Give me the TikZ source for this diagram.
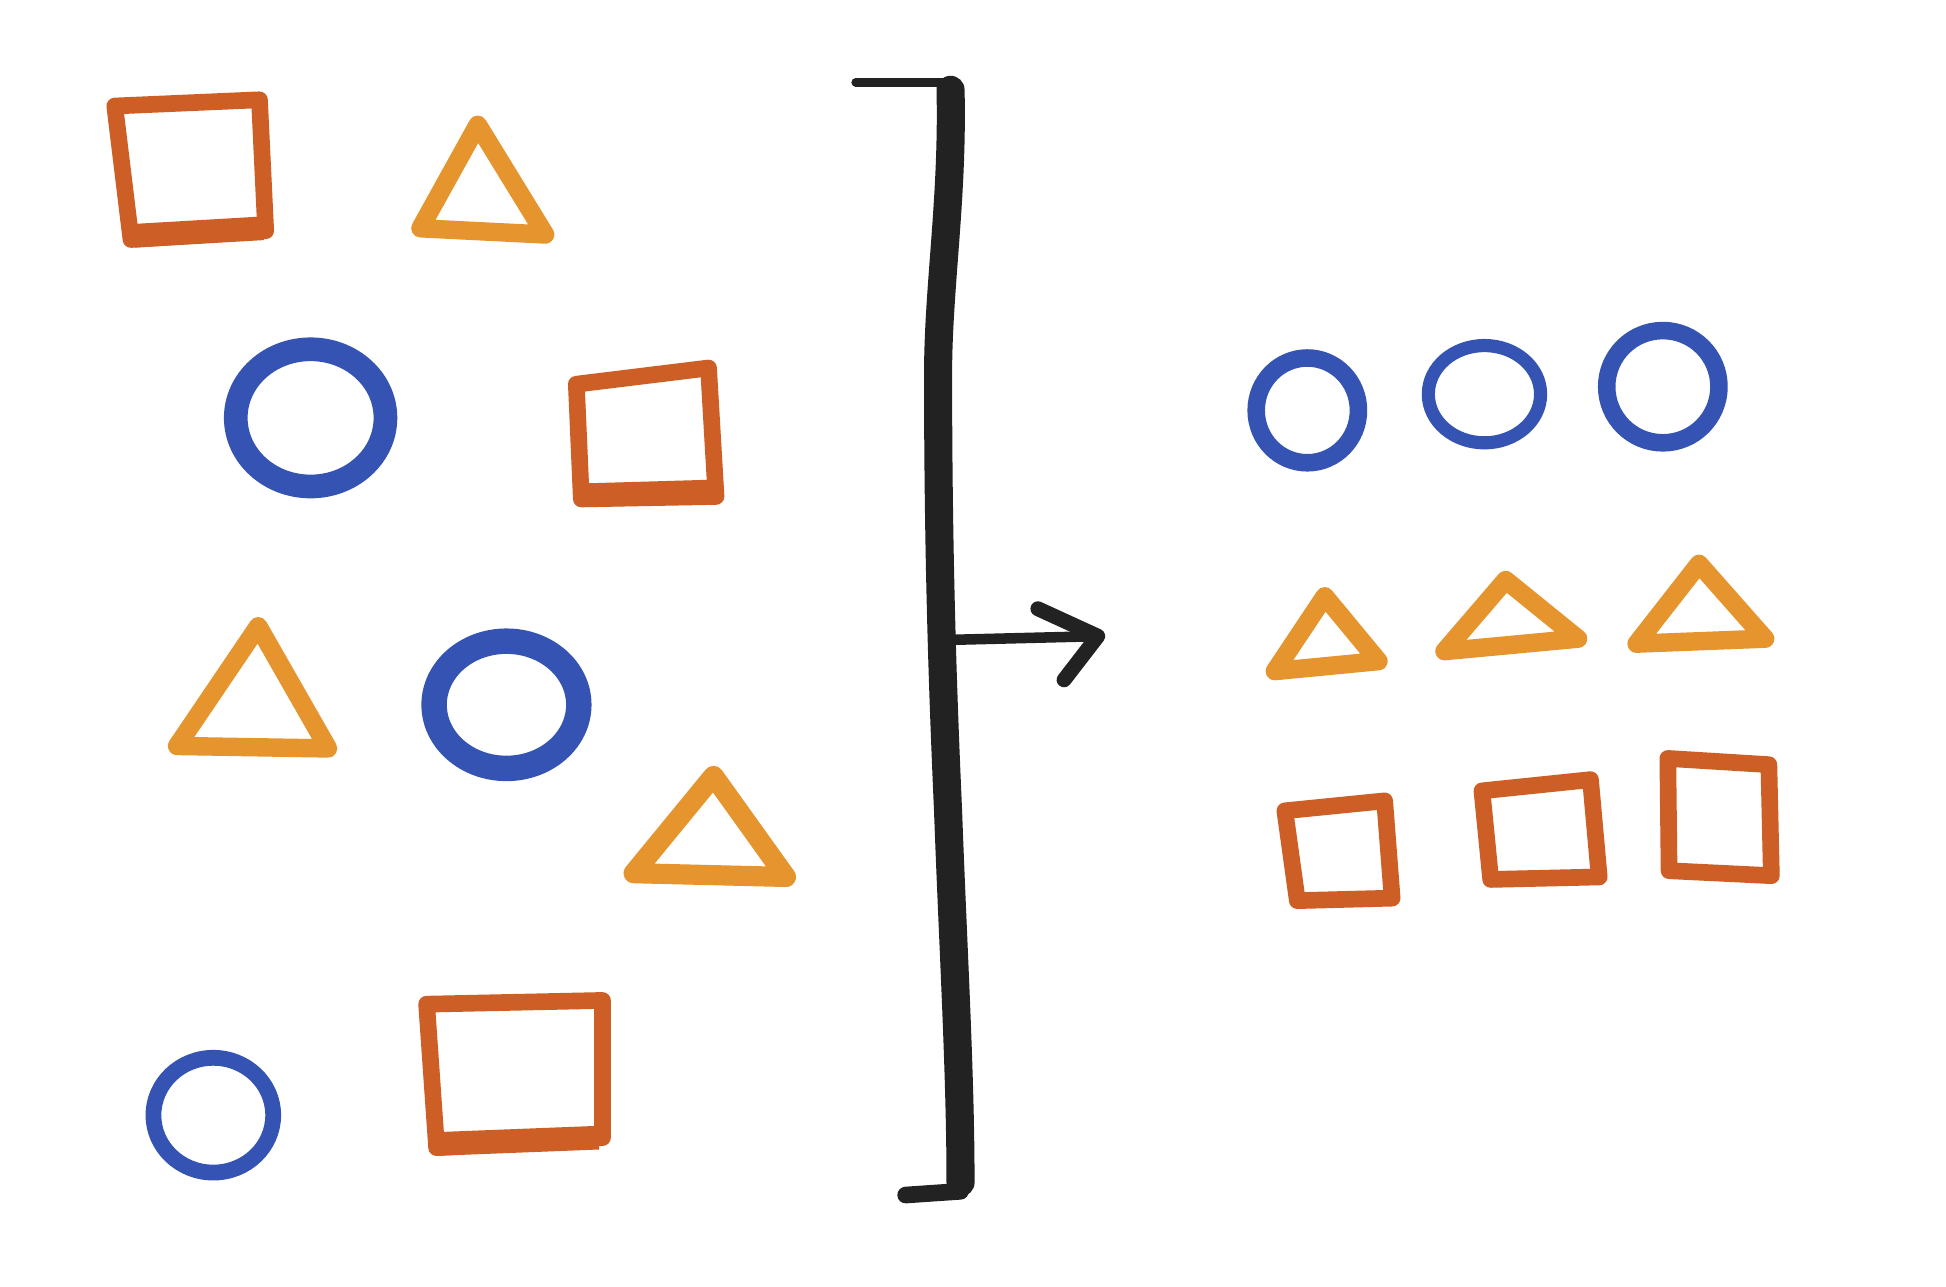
\documentclass[tikz,border=0pt]{standalone}
\begin{document}
\begin{tikzpicture}[x=0.01cm,y=-0.01cm,line join=round,line cap=round,
  sq/.style={draw=sqcol,line width=3.8pt},
  sqbase/.style={draw=sqcol,line width=5.4pt,line cap=butt},
  tri/.style={draw=tricol,line width=4.2pt},
  ring/.style={draw=ringcol},
  ink/.style={draw=inkcol}]
\definecolor{sqcol}{HTML}{CD5F26}
\definecolor{tricol}{HTML}{E6942E}
\definecolor{ringcol}{HTML}{3553B2}
\definecolor{inkcol}{HTML}{222222}
\useasboundingbox[fill=white] (0,0) rectangle (1560,1031);

% ---- left: mixed shapes ----
% squares
\draw[sq] (92,85) -- (208,80) -- (213,185) -- (105,192) -- cycle;
\draw[sqbase] (108,189) -- (211,183);
\draw[sq] (462,308) -- (568,295) -- (574,398) -- (466,400) -- cycle;
\draw[sqbase] (469,397) -- (572,394);
\draw[sq] (342,805) -- (483,802) -- (483,912) -- (350,920) -- cycle;
\draw[sqbase] (352,917) -- (480,912);
% triangles
\draw[tri] (383,100) -- (437,188) -- (337,183) -- cycle;
\draw[tri] (207,502) -- (263,600) -- (142,598) -- cycle;
\draw[tri,line width=4.6pt] (572,622) -- (630,703) -- (508,700) -- cycle;
% circles
\draw[ring,line width=5.4pt] (249,335) ellipse [x radius=60,y radius=55];
\draw[ring,line width=5.8pt] (406,565) ellipse [x radius=58,y radius=51];
\draw[ring,line width=3.6pt] (171,894) ellipse [x radius=48,y radius=46];

% ---- bracket and arrow ----
\coordinate (btl) at (686,66);
\coordinate (btr) at (762,66);
\coordinate (btv) at (762,72);
\coordinate (bbr) at (770,948);
\coordinate (bbl) at (726,958);
\coordinate (bbc) at (770,955);
\coordinate (amid) at (760,513);
\coordinate (atip) at (880,510);
\draw[ink,line width=2pt] (btl) -- (btr);
\draw[ink,line width=6.4pt] (btv) .. controls (764,160) and (752,230) .. (752,300)
  .. controls (752,450) and (756,560) .. (760,650)
  .. controls (764,760) and (770,860) .. (bbr);
\draw[ink,line width=3.8pt] (bbc) -- (bbl);
\draw[ink,line width=2.4pt] (amid) -- (atip);
\draw[ink,line width=3.4pt] (832,488) -- (atip) -- (853,545);

% ---- right: sorted shapes ----
\draw[ring,line width=4pt] (1048,329) ellipse [x radius=41,y radius=42];
\draw[ring,line width=3pt] (1190,316) ellipse [x radius=45,y radius=39];
\draw[ring,line width=4pt] (1333,310) ellipse [x radius=45,y radius=45];

\draw[tri] (1062,478) -- (1105,530) -- (1022,538) -- cycle;
\draw[tri] (1207,465) -- (1265,512) -- (1158,522) -- cycle;
\draw[tri] (1362,452) -- (1415,512) -- (1312,516) -- cycle;

\draw[sq] (1030,650) -- (1110,642) -- (1116,720) -- (1040,722) -- cycle;
\draw[sq] (1188,634) -- (1275,625) -- (1282,703) -- (1195,705) -- cycle;
\draw[sq] (1337,608) -- (1418,613) -- (1420,702) -- (1338,698) -- cycle;
\end{tikzpicture}
\end{document}
